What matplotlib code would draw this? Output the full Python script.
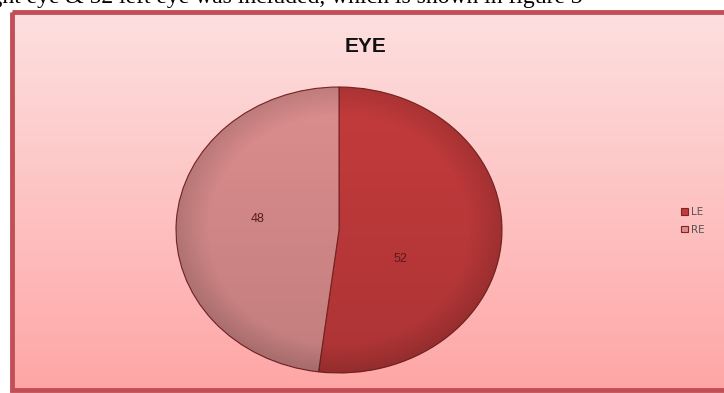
import numpy as np
import matplotlib.pyplot as plt
from matplotlib.patches import Rectangle

labels = ['LE', 'RE']
values = [52, 48]
colors = ['#c43b3c', '#dc8e8e']
title = 'EYE'
caption = 'right eye & 52 left eye was included, which is shown in figure 3'

W, H = 724, 393
fig = plt.figure(figsize=(W / 100, H / 100), dpi=100)
fig.patch.set_facecolor('white')

# chart area background: vertical pink gradient with a red border
bg = fig.add_axes([0, 0, 1, 1])
bg.set_xlim(0, W)
bg.set_ylim(H, 0)
bg.axis('off')
grad = np.linspace(0, 1, 256)[:, None]
top = np.array([253, 224, 224]) / 255
bot = np.array([255, 166, 166]) / 255
img = top[None, None, :] * (1 - grad[:, :, None]) + bot[None, None, :] * grad[:, :, None]
bg.imshow(img, extent=[12, 724, 390, 12], aspect='auto', zorder=0)
bg.add_patch(Rectangle((12, 12), 730, 378, fill=False, edgecolor='#c24f58', lw=3.5, zorder=1))

# document text running above the chart, clipped by the page edge
bg.text(-24, -3, caption, fontsize=17, family='Liberation Serif', color='black',
        ha='left', va='center', zorder=2)

bg.text(366, 47, title, fontsize=15, fontweight='bold', family='Liberation Sans',
        color='#111111', ha='center', va='center')

# pie in an axes stretched to an ellipse
ax = fig.add_axes([176 / W, (H - 373) / H, 326 / W, 286 / H])
wedges, texts = ax.pie(values, colors=colors, startangle=90, counterclock=False,
                       wedgeprops=dict(edgecolor='#7e2626', linewidth=0.8))
ax.set_aspect('auto')
ax.set_xlim(-1.0, 1.0)
ax.set_ylim(-1.0, 1.0)

# soft darkening toward the rim and the bottom of each slice
yy, xx = np.mgrid[-1:1:300j, -1:1:300j]
r = np.sqrt(xx ** 2 + yy ** 2)
shade = np.zeros((300, 300, 4))
shade[..., 3] = np.clip(0.13 * np.clip((r - 0.8) / 0.2, 0, 1) + 0.12 * (-yy + 1) / 2, 0, 0.3)
for w in wedges:
    im = ax.imshow(shade, extent=[-1, 1, -1, 1], origin='lower', aspect='auto', zorder=3)
    im.set_clip_path(w)
for w in wedges:
    w.set_zorder(2)

label_pos = [(0.38, -0.2), (-0.5, 0.08)]
for v, (x, y) in zip(values, label_pos):
    ax.text(x, y, str(v), fontsize=9, color='#5a1a1a', ha='center', va='center',
            family='Liberation Sans', zorder=5)

leg = fig.legend(wedges, labels, loc='center left', bbox_to_anchor=(672 / W, 1 - 221 / H),
                 frameon=False, fontsize=7.5, handlelength=0.6, handleheight=0.6,
                 handletextpad=0.3, labelspacing=0.7)
for t in leg.get_texts():
    t.set_color('#555555')

fig.savefig('out.png', dpi=100)
